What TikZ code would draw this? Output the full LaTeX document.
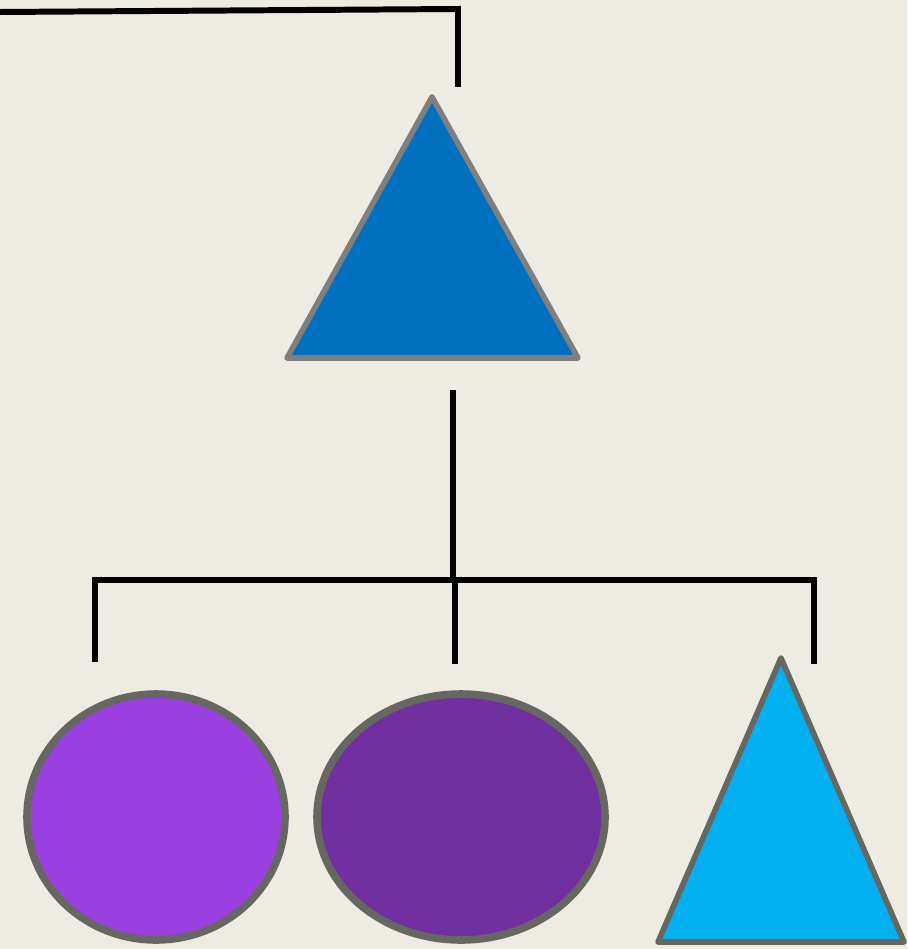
\documentclass[tikz,border=0pt]{standalone}
\usepackage{xcolor}
\usepackage{tikz}
\usetikzlibrary{positioning}

\definecolor{bgcream}{HTML}{EEEBE3}
\definecolor{darkblue}{HTML}{0070C0}
\definecolor{lightblue}{HTML}{00B0F0}
\definecolor{lilac}{HTML}{9B40E0}
\definecolor{plum}{HTML}{7030A0}
\definecolor{rimgray}{HTML}{7F7F7F}
\definecolor{rimdark}{HTML}{676762}

\begin{document}
\begin{tikzpicture}[
    x=0.02cm, y=-0.02cm,
    link/.style={draw=black, line width=3.4pt},
    tri/.style={draw=rimgray, line width=3.2pt, line join=round},
    blob/.style={draw=rimdark, line width=4.3pt}
    ]
    \fill[bgcream] (0,0) rectangle (907,949);
    \useasboundingbox (0,0) rectangle (907,949);

    % shapes
    \filldraw[tri, fill=darkblue] (432,97) -- (578,358) -- (287,358) -- cycle;
    \filldraw[blob, fill=lilac] (156,817) ellipse [x radius=129, y radius=123];
    \filldraw[blob, fill=plum] (461,817) ellipse [x radius=144, y radius=123];
    \filldraw[tri, draw=rimdark, fill=lightblue] (781,658) -- (904,942) -- (658,942) -- cycle;

    % connector ends
    \coordinate (inleft) at (0,12);
    \coordinate (topcorner) at (458,9);
    \coordinate (topend) at (458,87);
    \coordinate (stem) at (453,390);
    \coordinate (fork) at (453,580);
    \coordinate (barleft) at (95,580);
    \coordinate (barright) at (814,580);
    \coordinate (leftend) at (95,662);
    \coordinate (midtop) at (455,580);
    \coordinate (midend) at (455,664);
    \coordinate (rightend) at (814,664);

    \draw[link] (inleft) -- (topcorner) -- (topend);
    \draw[link] (stem) -- (fork);
    \draw[link] (leftend) -- (barleft) -- (barright) -- (rightend);
    \draw[link] (midtop) -- (midend);
\end{tikzpicture}
\end{document}
